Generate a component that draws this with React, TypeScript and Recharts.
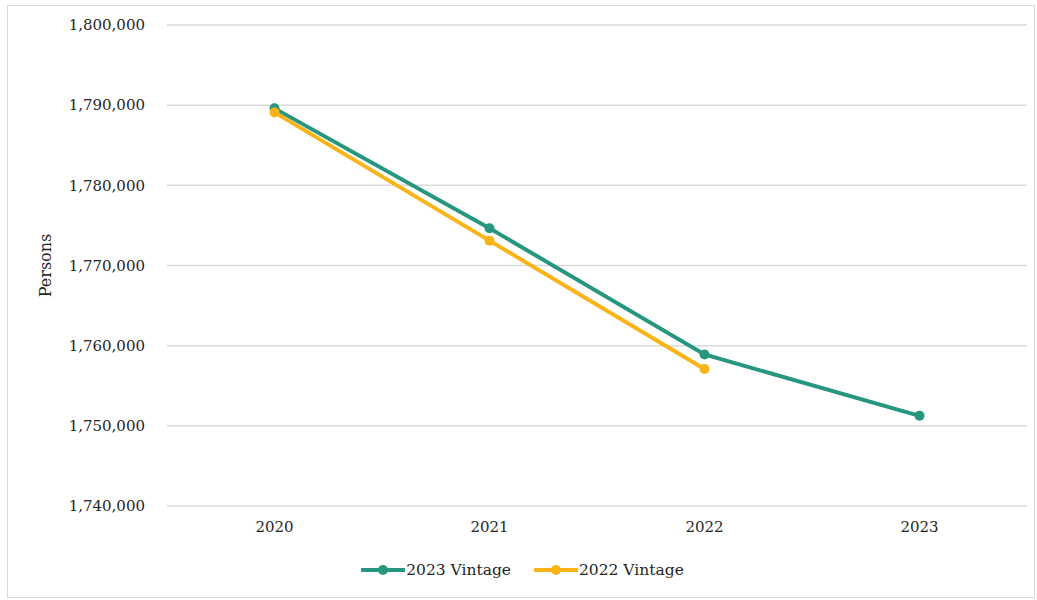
import React from "react"
import { LineChart, Line, XAxis, YAxis, CartesianGrid, Legend } from "recharts"

const years = ["2020", "2021", "2022", "2023"]
const vintage2023 = [1789600, 1774650, 1758900, 1751250]
const vintage2022: (number | null)[] = [1789100, 1773100, 1757100, null]
const yTicks = [1740000, 1750000, 1760000, 1770000, 1780000, 1790000, 1800000]

const GREEN = "#27967f"
const YELLOW = "#fbb417"
const FONT = "'DejaVu Serif', serif"

const data = years.map((year, i) => ({
  year,
  v2023: vintage2023[i],
  v2022: vintage2022[i],
}))

const series = [
  { key: "v2023", name: "2023 Vintage", color: GREEN },
  { key: "v2022", name: "2022 Vintage", color: YELLOW },
]

const LegendContent = () => (
  <div style={{ display: "flex", justifyContent: "center", alignItems: "center", gap: 23, paddingLeft: 8 }}>
    {series.map((s) => (
      <div key={s.key} style={{ display: "flex", alignItems: "center" }}>
        <svg width={44} height={14}>
          <line x1={1} y1={7} x2={43} y2={7} stroke={s.color} strokeWidth={4} strokeLinecap="round" />
          <circle cx={22} cy={7} r={5} fill={s.color} />
        </svg>
        <span style={{ fontFamily: FONT, fontSize: 15.5, color: "#262626", marginLeft: 1 }}>{s.name}</span>
      </div>
    ))}
  </div>
)

export default function App() {
  return (
    <div style={{ position: "absolute", left: 0, top: 0, width: 1037, height: 600, background: "#fff" }}>
      <div
        style={{
          position: "absolute",
          left: 7,
          top: 5,
          width: 1026,
          height: 591,
          border: "1px solid #d9d9d9",
        }}
      />
      <LineChart
        width={1037}
        height={600}
        data={data}
        margin={{ top: 25, right: 10, left: 10, bottom: 21 }}
        style={{ position: "absolute", left: 0, top: 0 }}
      >
        <CartesianGrid vertical={false} stroke="#d9d9d9" strokeWidth={1.5} />
        <XAxis
          dataKey="year"
          scale="band"
          axisLine={false}
          tickLine={false}
          tickSize={0}
          tickMargin={15}
          height={55}
          tick={{ fontFamily: FONT, fontSize: 15, fill: "#262626" }}
        />
        <YAxis
          domain={[1740000, 1800000]}
          ticks={yTicks}
          axisLine={false}
          tickLine={false}
          tickSize={0}
          tickMargin={22}
          width={157}
          tickFormatter={(v: number) => v.toLocaleString("en-US")}
          tick={{ fontFamily: FONT, fontSize: 15, fill: "#262626" }}
          label={{
            value: "Persons",
            angle: -90,
            position: "insideLeft",
            dx: 30,
            style: { textAnchor: "middle", fontFamily: FONT, fontSize: 16, fill: "#262626" },
          }}
        />
        <Legend verticalAlign="bottom" content={<LegendContent />} />
        {series.map((s) => (
          <Line
            key={s.key}
            dataKey={s.key}
            name={s.name}
            stroke={s.color}
            strokeWidth={4}
            dot={{ r: 5, fill: s.color, stroke: s.color, strokeWidth: 0 }}
            activeDot={false}
            isAnimationActive={false}
          />
        ))}
      </LineChart>
    </div>
  )
}
